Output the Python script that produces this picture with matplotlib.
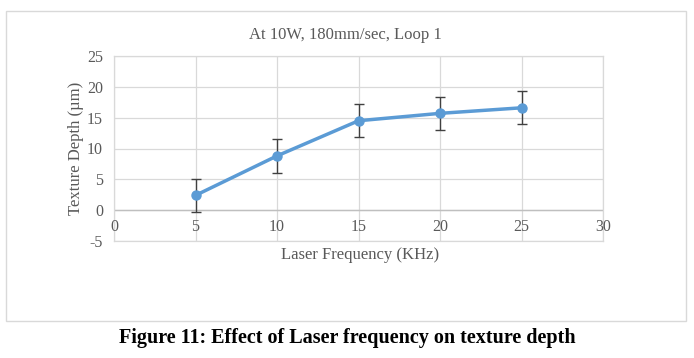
import matplotlib
matplotlib.use("Agg")
import matplotlib.pyplot as plt
from matplotlib.patches import Rectangle

freq = [5, 10, 15, 20, 25]
depth = [2.4, 8.8, 14.5, 15.7, 16.6]
err = [2.7, 2.7, 2.65, 2.65, 2.65]

title = "At 10W, 180mm/sec, Loop 1"
xlabel = "Laser Frequency (KHz)"
ylabel = "Texture Depth (µm)"
caption = "Figure 11: Effect of Laser frequency on texture depth"
xticks = [0, 5, 10, 15, 20, 25, 30]
yticks = [-5, 0, 5, 10, 15, 20, 25]

plt.rcParams['font.family'] = ['Liberation Serif', 'DejaVu Serif']
plt.rcParams['axes.unicode_minus'] = False

fig = plt.figure(figsize=(6.94, 3.58), dpi=100)
fig.patches.append(Rectangle((6/694, 1-321/358), 680/694, 310/358, transform=fig.transFigure,
                             fill=False, edgecolor='#d9d9d9', linewidth=1.0))

ax = fig.add_axes([114/694, 1-241/358, 489/694, 185/358])
ax.set_xlim(0, 30)
ax.set_ylim(-5, 25)
ax.set_xticks(xticks)
ax.set_yticks(yticks)
ax.grid(True, color='#d9d9d9', linewidth=0.9)
ax.set_axisbelow(True)
for s in ax.spines.values():
    s.set_color('#d9d9d9')
    s.set_linewidth(0.9)
ax.axhline(0, color='#bfbfbf', linewidth=1.0, zorder=1)
ax.tick_params(length=0, labelsize=11.5, labelcolor='#595959', pad=8)
# x tick labels sit just below the zero line
ax.set_xticklabels([])
for x in xticks:
    ax.text(x, -2.8, str(x), ha='center', va='center', fontsize=11.5, color='#595959')

ax.errorbar(freq, depth, yerr=err, color='#5b9bd5', linewidth=2.5, marker='o', markersize=6.5,
            ecolor='#404040', elinewidth=1.0, capsize=3.5, capthick=1.0, zorder=3)

ax.set_ylabel(ylabel, fontsize=12, color='#595959', labelpad=2)
fig.text(360/694, 1-255/358, xlabel, ha='center', va='center', fontsize=12, color='#595959')
fig.text(345/694, 1-35/358, title, ha='center', va='center', fontsize=12, color='#595959')
fig.text(347/694, 1-338/358, caption, ha='center', va='center', fontsize=14.5, fontweight='bold', color='black')

fig.savefig("out.png", dpi=100)
